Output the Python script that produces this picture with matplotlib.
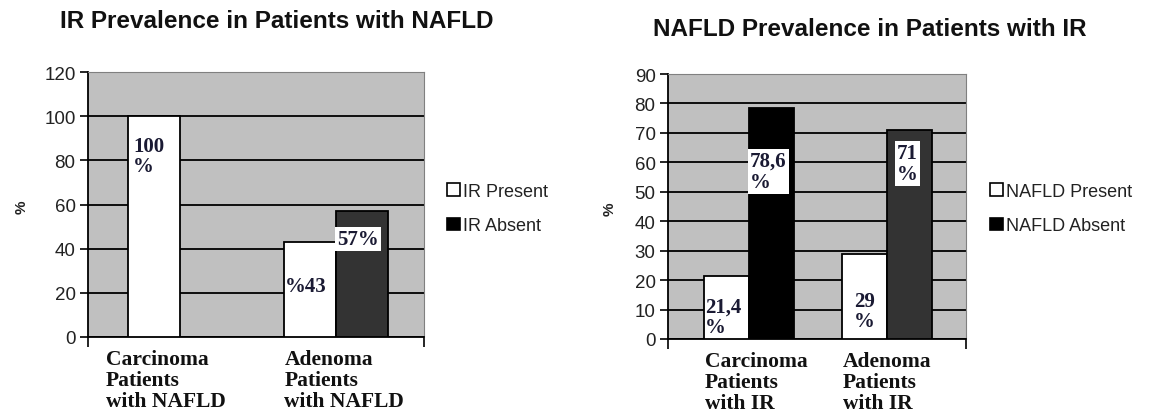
import matplotlib
matplotlib.use("Agg")
import matplotlib.pyplot as plt
from matplotlib.patches import Rectangle
from matplotlib.transforms import blended_transform_factory
import numpy as np

# ---------------- data ----------------
left_title = "IR Prevalence in Patients with NAFLD"
left_categories = ["Carcinoma\nPatients\nwith NAFLD", "Adenoma\nPatients\nwith NAFLD"]
left_series_names = ["IR Present", "IR Absent"]
ir_present = [100, 43]
ir_absent = [0, 57]
left_labels_present = ["100\n%", "%43"]
left_labels_absent = ["", "57%"]
left_yticks = [0, 20, 40, 60, 80, 100, 120]

right_title = "NAFLD Prevalence in Patients with IR"
right_categories = ["Carcinoma\nPatients\nwith IR", "Adenoma\nPatients\nwith IR"]
right_series_names = ["NAFLD Present", "NAFLD Absent"]
nafld_present = [21.4, 29]
nafld_absent = [78.6, 71]
right_labels_present = ["21,4\n%", "29\n%"]
right_labels_absent = ["78,6\n%", "71\n%"]
right_yticks = [0, 10, 20, 30, 40, 50, 60, 70, 80, 90]

# ---------------- style ----------------
W, H = 1151, 414
fig = plt.figure(figsize=(W / 100, H / 100), dpi=100)
fig.patch.set_facecolor("white")

SANS = ["Liberation Sans", "DejaVu Sans"]
SERIF = ["Liberation Serif", "DejaVu Serif"]
BG = "#C0C0C0"


def px_axes(x0, x1, y0, y1):
    return fig.add_axes([x0 / W, 1 - y1 / H, (x1 - x0) / W, (y1 - y0) / H])


def draw(ax, cats, present, absent, lab_p, lab_a, lab_p_pos, lab_a_pos,
         absent_colors, yticks, width, xlim, cat_offsets):
    x = np.arange(len(cats))
    ax.set_facecolor(BG)
    ax.set_axisbelow(True)
    ax.bar(x - width / 2, present, width, color="white", edgecolor="black",
           linewidth=1.3, zorder=3)
    ax.bar(x + width / 2, absent, width, color=absent_colors, edgecolor="black",
           linewidth=1.3, zorder=3)
    ax.set_ylim(yticks[0], yticks[-1])
    ax.set_xlim(*xlim)
    ax.set_yticks(yticks)
    ax.yaxis.grid(True, color="black", linewidth=1.3)
    ax.tick_params(axis="y", direction="out", length=6, width=1.2,
                   labelsize=13.5, pad=3, colors="black")
    for lab in ax.get_yticklabels():
        lab.set_family(SANS)
        lab.set_color("#222222")
    ax.set_xticks(list(xlim))
    ax.set_xticklabels([])
    ax.tick_params(axis="x", direction="out", length=7, width=1.2)
    for s in ["top", "right"]:
        ax.spines[s].set_color("#808080")
        ax.spines[s].set_linewidth(0.8)
    for s in ["left", "bottom"]:
        ax.spines[s].set_color("black")
        ax.spines[s].set_linewidth(1.3)
    trans = blended_transform_factory(ax.transData, ax.transAxes)
    for i, c in enumerate(cats):
        ax.text(i + cat_offsets[i], -0.045, c, transform=trans, ha="left",
                va="top", family=SERIF, fontweight="bold", fontsize=15.5,
                linespacing=1.07, color="#111111")
    for i in range(len(cats)):
        if lab_p[i]:
            xx, yy = lab_p_pos[i]
            ax.text(i - width / 2 + xx, yy, lab_p[i], ha="left", va="center",
                    family=SERIF, fontweight="bold", fontsize=15,
                    linespacing=1.05, color="#1a1a33", zorder=5)
        if lab_a[i]:
            xx, yy = lab_a_pos[i]
            ax.text(i + width / 2 + xx, yy, lab_a[i], ha="left", va="center",
                    family=SERIF, fontweight="bold", fontsize=15,
                    linespacing=1.05, color="#1a1a33", zorder=5,
                    bbox=dict(boxstyle="square,pad=0.1", facecolor="white",
                              edgecolor="none"))


# left chart
axL = px_axes(88, 424, 73, 338)
draw(axL, left_categories, ir_present, ir_absent,
     left_labels_present, left_labels_absent,
     [(-0.135, 82), (-0.16, 23)], [(None, None), (-0.16, 44.5)],
     ["#333333", "#333333"], left_yticks, 0.335, (-0.594, 1.568),
     [-0.48, -0.33])

axR = px_axes(668, 966, 75, 340)
draw(axR, right_categories, nafld_present, nafld_absent,
     right_labels_present, right_labels_absent,
     [(-0.155, 7.5), (-0.075, 9.5)], [(-0.155, 57), (-0.09, 59.5)],
     ["#000000", "#333333"], right_yticks, 0.326, (-0.587, 1.572),
     [-0.32, -0.32])

# titles
fig.text(277 / W, 1 - 22 / H, left_title, ha="center", va="center",
         family=SANS, fontweight="bold", fontsize=17.5, color="#111111")
fig.text(870 / W, 1 - 30 / H, right_title, ha="center", va="center",
         family=SANS, fontweight="bold", fontsize=17.5, color="#111111")

# y labels
fig.text(22 / W, 1 - 207 / H, "%", rotation=90, ha="center", va="center",
         family=SANS, fontsize=11, fontweight="bold", color="#222222")
fig.text(610 / W, 1 - 209 / H, "%", rotation=90, ha="center", va="center",
         family=SANS, fontsize=11, fontweight="bold", color="#222222")

# legends
def legend(ax, names, x_px):
    handles = [Rectangle((0, 0), 1, 1, facecolor="white", edgecolor="black", linewidth=1.2),
               Rectangle((0, 0), 1, 1, facecolor="black", edgecolor="black", linewidth=1.2)]
    leg = ax.legend(handles, names, loc="upper left",
                    bbox_to_anchor=(x_px / W, 1 - 184 / H),
                    bbox_transform=fig.transFigure, frameon=False,
                    handlelength=0.7, handleheight=0.7, handletextpad=0.2,
                    labelspacing=0.95, borderpad=0, borderaxespad=0,
                    prop={"family": SANS, "size": 13})
    for t in leg.get_texts():
        t.set_color("#222222")

legend(axL, left_series_names, 447)
legend(axR, right_series_names, 990)

fig.savefig("out.png", dpi=100)
